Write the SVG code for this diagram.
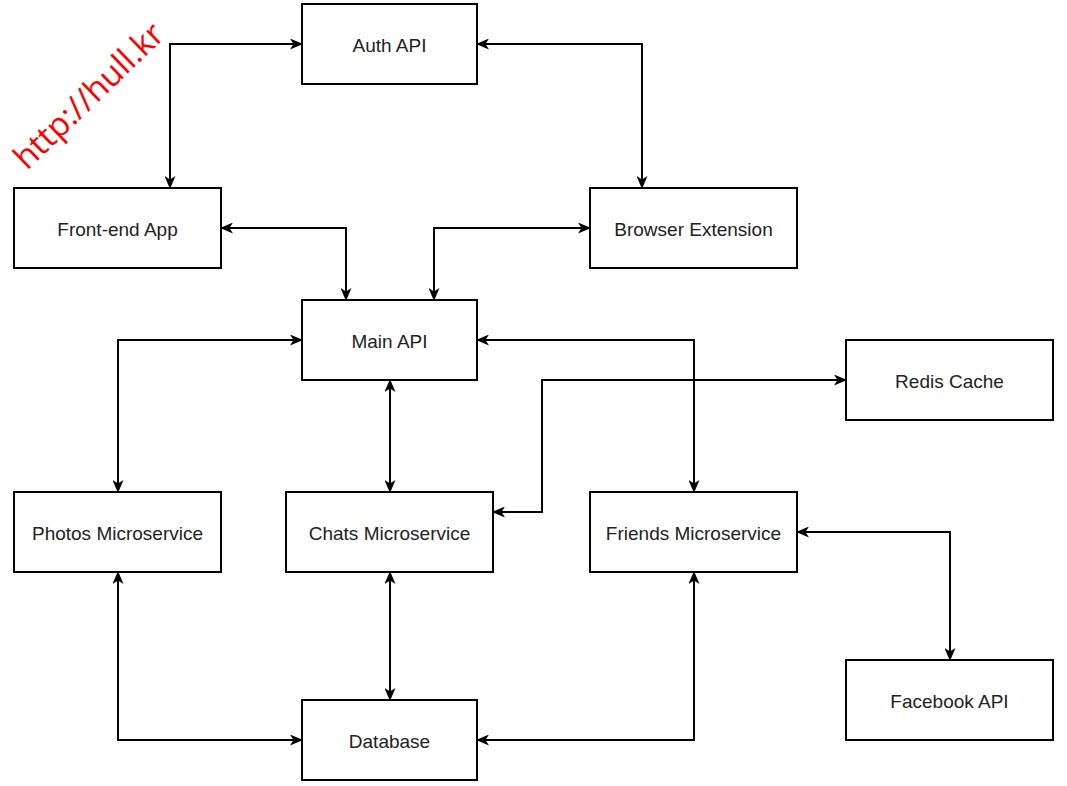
<svg xmlns="http://www.w3.org/2000/svg" width="1067" height="786" viewBox="0 0 1067 786">
<style>
.box{fill:#fff;stroke:#000;stroke-width:2}
.lbl{font-family:"Liberation Sans",Arial,sans-serif;font-size:19px;fill:#222;text-anchor:middle;dominant-baseline:central}
.edge{fill:none;stroke:#000;stroke-width:2;marker-start:url(#ah);marker-end:url(#ah)}
.wm{font-family:"Open Sans","Liberation Sans",sans-serif;font-size:33px;fill:#ff0000}
</style>
<defs>
<marker id="ah" viewBox="0 0 13 11" refX="12" refY="5.5" markerWidth="13" markerHeight="11" markerUnits="userSpaceOnUse" orient="auto-start-reverse">
<path d="M0,0 L13,5.5 L0,11 L3.5,5.5 Z" fill="#000"/>
</marker>
</defs>
<rect width="1067" height="786" fill="#fff"/>
<g id="connectors">
<path class="edge" d="M170,188 L170,44 L302,44"/>
<path class="edge" d="M477,44 L642,44 L642,188"/>
<path class="edge" d="M221,228 L346,228 L346,300"/>
<path class="edge" d="M590,228 L434,228 L434,300"/>
<path class="edge" d="M302,340 L118,340 L118,492"/>
<path class="edge" d="M477,340 L694,340 L694,492"/>
<path class="edge" d="M390,380 L390,492"/>
<path class="edge" d="M846,380 L542,380 L542,512 L493,512"/>
<path class="edge" d="M797,532 L950,532 L950,660"/>
<path class="edge" d="M118,572 L118,740 L302,740"/>
<path class="edge" d="M390,572 L390,700"/>
<path class="edge" d="M694,572 L694,740 L477,740"/>
</g>
<g id="auth-api"><rect class="box" x="302" y="4" width="175" height="80"/><text class="lbl" x="389.5" y="45">Auth API</text></g>
<g id="front-end-app"><rect class="box" x="14" y="188" width="207" height="80"/><text class="lbl" x="117.5" y="229">Front-end App</text></g>
<g id="browser-extension"><rect class="box" x="590" y="188" width="207" height="80"/><text class="lbl" x="693.5" y="229">Browser Extension</text></g>
<g id="main-api"><rect class="box" x="302" y="300" width="175" height="80"/><text class="lbl" x="389.5" y="341">Main API</text></g>
<g id="redis-cache"><rect class="box" x="846" y="340" width="207" height="80"/><text class="lbl" x="949.5" y="381">Redis Cache</text></g>
<g id="photos-microservice"><rect class="box" x="14" y="492" width="207" height="80"/><text class="lbl" x="117.5" y="533">Photos Microservice</text></g>
<g id="chats-microservice"><rect class="box" x="286" y="492" width="207" height="80"/><text class="lbl" x="389.5" y="533">Chats Microservice</text></g>
<g id="friends-microservice"><rect class="box" x="590" y="492" width="207" height="80"/><text class="lbl" x="693.5" y="533">Friends Microservice</text></g>
<g id="facebook-api"><rect class="box" x="846" y="660" width="207" height="80"/><text class="lbl" x="949.5" y="701">Facebook API</text></g>
<g id="database"><rect class="box" x="302" y="700" width="175" height="80"/><text class="lbl" x="389.5" y="741">Database</text></g>
<g id="watermark"><text class="wm" transform="translate(27,171) rotate(-44)">http://hull.kr</text></g>
</svg>
